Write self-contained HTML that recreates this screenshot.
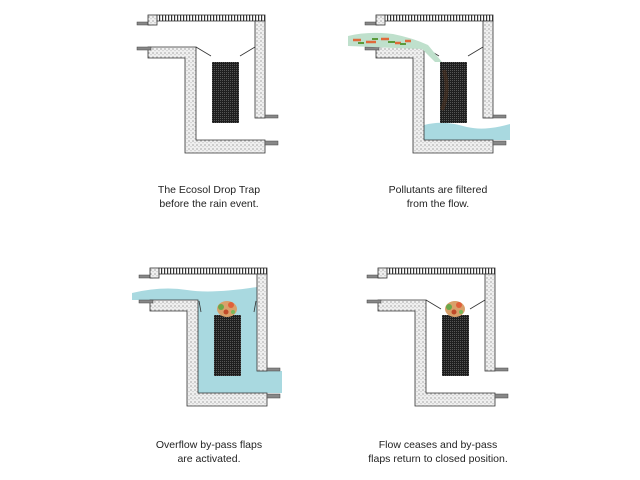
<!DOCTYPE html>
<html><head><style>body{margin:0;background:#fff}svg{display:block}</style></head><body>
<svg width="640" height="480" xmlns="http://www.w3.org/2000/svg">
<defs>
<pattern id="dots" width="4" height="4" patternUnits="userSpaceOnUse"><rect width="4" height="4" fill="#f0f0f0"/><circle cx="1" cy="1" r="0.6" fill="#777"/><circle cx="3" cy="2.8" r="0.5" fill="#999"/></pattern>
<pattern id="hatch" width="3" height="6" patternUnits="userSpaceOnUse"><rect width="3" height="6" fill="#fff"/><rect width="1.2" height="6" fill="#333"/></pattern>
<pattern id="mesh" width="2" height="2" patternUnits="userSpaceOnUse"><rect width="2" height="2" fill="#1e1e1e"/><rect width="1" height="1" fill="#555"/></pattern>
<g id="struct">
<rect x="137" y="22" width="14" height="3" fill="#888" stroke="#444" stroke-width="0.5"/>
<rect x="148" y="15" width="9" height="10" fill="url(#dots)" stroke="#333" stroke-width="0.8"/>
<rect x="157" y="15" width="108" height="6" fill="url(#hatch)" stroke="#333" stroke-width="0.8"/>
<rect x="255" y="21" width="10" height="97" fill="url(#dots)" stroke="#333" stroke-width="0.8"/>
<rect x="265" y="115" width="13" height="3" fill="#888" stroke="#444" stroke-width="0.5"/>
<path d="M148 47 H196 V140 H265 V153 H185 V58 H148 Z" fill="url(#dots)" stroke="#333" stroke-width="0.8"/>
<rect x="137" y="47" width="14" height="3" fill="#888" stroke="#444" stroke-width="0.5"/>
<rect x="265" y="141" width="13" height="4" fill="#888" stroke="#444" stroke-width="0.5"/>
</g>
<rect id="bask" x="212" y="62" width="27" height="61" fill="url(#mesh)"/>
<g id="debris">
<ellipse cx="225" cy="56" rx="10" ry="8" fill="#d9a06a"/>
<circle cx="219" cy="54" r="3" fill="#6aa84a"/><circle cx="229" cy="52" r="3" fill="#e0603a"/>
<circle cx="224" cy="59" r="2.5" fill="#c04a2a"/><circle cx="231" cy="59" r="2" fill="#7ab85a"/>
</g>
</defs>
<!-- Panel 1 -->
<use href="#struct"/><use href="#bask"/>
<path d="M196 47 L211 56 M255 47 L240 56" stroke="#333" stroke-width="0.8"/>
<!-- Panel 2 -->
<g transform="translate(228,0)">
<path d="M196 125 Q215 120 235 126 T282 124 V140 H196 Z" fill="#a9d9e0"/>
<use href="#struct"/><use href="#bask"/>
<path d="M255 47 L240 56" stroke="#333" stroke-width="0.8"/>
<path d="M196 47 L211 56" stroke="#333" stroke-width="0.8"/>
<path d="M120 36 Q140 31 165 34 Q185 38 200 45 L214 62 L207 62 L194 49 L120 46 Z" fill="#bfe0cc"/>
<path d="M125 40 h8 m5 2 h10 m5 -3 h8 m6 4 h6 m4 -2 h6" stroke="#e06a3a" stroke-width="2.5"/>
<path d="M130 43 h6 m8 -4 h6 m10 3 h7 m5 2 h6" stroke="#5a9a3a" stroke-width="2"/>
<path d="M216 70 q6 20 -2 40" stroke="#4a3020" stroke-width="4" fill="none" opacity="0.6"/>
</g>
<!-- Panel 3 -->
<g transform="translate(2,253)">
<path d="M130 40 Q160 33 185 37 T255 34 V118 H280 V140 H196 V47 H130 Z" fill="#a9d9e0"/>
<use href="#struct"/><use href="#bask"/>
<path d="M197 48 L199 59 M254 48 L252 59" stroke="#333" stroke-width="0.8"/>
<use href="#debris"/>
</g>
<!-- Panel 4 -->
<g transform="translate(230,253)">
<use href="#struct"/><use href="#bask"/>
<path d="M196 47 L211 56 M255 47 L240 56" stroke="#333" stroke-width="0.8"/>
<use href="#debris"/>
</g>
<g font-family="Liberation Sans, sans-serif" font-size="10.5" fill="#222" text-anchor="middle">
<text x="209" y="193">The Ecosol Drop Trap</text>
<text x="209" y="207">before the rain event.</text>
<text x="438" y="193">Pollutants are filtered</text>
<text x="438" y="207">from the flow.</text>
<text x="209" y="448">Overflow by-pass flaps</text>
<text x="209" y="462">are activated.</text>
<text x="438" y="448">Flow ceases and by-pass</text>
<text x="438" y="462">flaps return to closed position.</text>
</g>
</svg>
</body></html>
